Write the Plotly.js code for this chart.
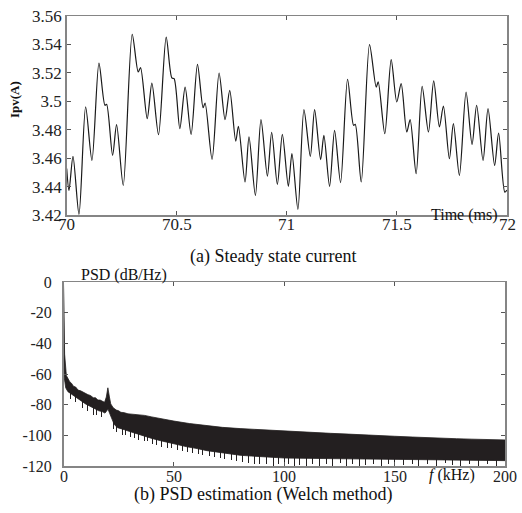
<!DOCTYPE html>
<html>
<head>
<meta charset="utf-8">
<script src="https://cdn.plot.ly/plotly-3.0.1.min.js"></script>
<style>html,body{margin:0;padding:0;background:#fff;}</style>
</head>
<body>
<div id="chart" style="width:522px;height:513px;"></div>
<script>
// ---- (a) Steady state current ----
const timeMs = [70.000, 70.0104, 70.0286, 70.0558, 70.086, 70.1147, 70.1465, 70.1737, 70.1813, 70.2085,
  70.2266, 70.2568, 70.2976, 70.3248, 70.3355, 70.3657, 70.3869, 70.4171, 70.4519, 70.4776,
  70.488, 70.5138, 70.5379, 70.5651, 70.594, 70.6195, 70.6286, 70.6603, 70.6921, 70.7193,
  70.7406, 70.7678, 70.78, 70.81, 70.8281, 70.8571, 70.8825, 70.9116, 70.9311, 70.9569,
  70.9796, 71.0068, 71.0231, 71.0503, 71.0776, 71.1066, 71.1261, 71.1533, 71.1683, 71.1941,
  71.2168, 71.244, 71.2757, 71.303, 71.3107, 71.3379, 71.3755, 71.4059, 71.415, 71.4449,
  71.4739, 71.4993, 71.5193, 71.5447, 71.56, 71.5873, 71.6145, 71.6431, 71.6671, 71.693,
  71.7111, 71.7383, 71.7565, 71.7837, 71.8141, 71.8413, 71.8621, 71.8912, 71.9138, 71.9438,
  71.9619, 71.99, 72.0];
const currentA = [3.4526, 3.4373, 3.4613, 3.4205, 3.496, 3.4584, 3.5269, 3.4972, 3.4979, 3.462,
  3.4836, 3.4409, 3.5471, 3.5206, 3.5237, 3.4878, 3.5128, 3.4765, 3.5452, 3.5164,
  3.5159, 3.4808, 3.51, 3.4767, 3.526, 3.4955, 3.4988, 3.4592, 3.5199, 3.4871,
  3.5077, 3.472, 3.4824, 3.4432, 3.4749, 3.4338, 3.4871, 3.4474, 3.4782, 3.4416,
  3.4767, 3.4402, 3.4632, 3.424, 3.4941, 3.4613, 3.4941, 3.459, 3.476, 3.4402,
  3.4796, 3.4428, 3.5155, 3.4831, 3.4838, 3.4432, 3.5399, 3.51, 3.5136, 3.4772,
  3.5293, 3.4995, 3.5124, 3.4784, 3.4871, 3.4491, 3.5105, 3.4784, 3.5143, 3.4819,
  3.4967, 3.4596, 3.4843, 3.4479, 3.5065, 3.4697, 3.4972, 3.4584, 3.4948, 3.4549,
  3.4777, 3.4361, 3.4375];
const timeTicks = [70, 70.5, 71, 71.5, 72];
const timeTickText = ['70', '70.5', '71', '71.5', '72'];
const currTicks = [3.42, 3.44, 3.46, 3.48, 3.5, 3.52, 3.54, 3.56];
const currTickText = ['3.42', '3.44', '3.46', '3.48', '3.5', '3.52', '3.54', '3.56'];

// ---- (b) PSD estimation (Welch) : band read as upper and lower envelopes ----
const psdUpperF = [0, 0.15, 0.5, 1.3, 2.2, 2.8, 3.6, 4.5, 5.5, 6.6, 7.8, 9, 10, 11.1, 12.2, 13.5, 14.5, 15.6,
  16.6, 17.5, 18.6, 19.4, 20.1, 20.8, 21.4, 22.5, 23.9, 25, 26, 27.5, 29.2, 31, 33, 35, 36.7, 40, 45, 50,
  57, 65, 72, 80, 87, 93, 100, 106, 114, 121, 129, 136, 143, 150, 158, 165, 172, 178, 185, 192, 200];
const psdUpperDb = [-1, -30, -47, -61, -63.5, -65, -66, -68, -68.5, -70.5, -71, -72, -72.5, -73.5, -74, -75.5, -75.5, -77,
  -77, -77.5, -78.5, -75, -69, -75, -79.5, -82, -83.5, -84, -85, -85.2, -86, -86.2, -86.5, -86.8, -87, -88, -89.5, -90.7,
  -92.3, -93.8, -94.8, -95.6, -96.2, -96.6, -97.2, -97.7, -98.2, -98.7, -99.2, -99.8, -100.2, -100.6, -101.1, -101.6, -101.9, -102.2, -102.5, -102.8, -103];
const psdLowerF = [0, 0.3, 1, 2, 3.5, 5, 6.5, 8, 10, 12, 14, 16, 17.5, 18.8, 19.6, 20.2, 21, 22, 23, 24.5, 26, 28,
  30, 33, 36, 40, 44, 48, 52, 56, 60, 65, 70, 75, 80, 85, 90, 95, 100, 110, 120, 130, 140, 150, 160, 170, 180, 190, 200];
const psdLowerDb = [-2, -62, -69, -71.5, -73, -74.5, -76, -78, -79.5, -81, -82.5, -84, -84.5, -85.5, -84, -83, -86, -90, -93, -95, -95.5, -96.5,
  -97.5, -99, -100.5, -102, -103.5, -105, -106.5, -107.5, -108.5, -110, -111, -112, -113, -113.5, -114, -114.5, -114.8, -115, -115.2, -115.4, -115.6, -115.8, -116, -116, -116.2, -116.3, -116.5];
// downward noise spikes below the band (frequency, tip level)
const spikeF = [3, 5.5, 8.5, 11, 13.5, 15, 17, 22.5, 24, 26.5, 28, 30.5, 32, 34, 36.5, 38, 40.5, 42, 44.5, 47, 49, 51.5,
  54, 56, 58.5, 61, 63, 66, 68.5, 71, 73, 76, 78.5, 81, 84, 86.5, 89, 92, 95, 97.5, 100, 102, 104.5, 107, 110, 113,
  116, 119, 122, 125.5, 128, 131, 134, 137, 140.5, 144, 147, 150, 154, 158, 161, 165, 169, 173, 176, 180, 184, 188, 192, 196];
const spikeDb = [-76, -78, -82, -84, -87, -86.5, -88, -96, -98, -99.5, -100, -101, -102, -103, -104, -103.5, -105.5, -106, -107.5, -108.5, -108, -109.5,
  -110, -111, -111.5, -112, -113, -113.5, -114, -115, -115.5, -116, -117, -117.5, -118, -118.5, -119, -119, -120, -118.5, -120, -119, -120, -119.5, -120, -118.5,
  -120, -119, -120, -118, -120, -119, -120, -119.5, -118.5, -120, -119, -120, -119.5, -118.5, -120, -119, -120, -118, -119.5, -120, -118.5, -120, -119, -120];
const freqTicks = [0, 50, 100, 150, 200];
const freqTickText = ['0', '50', '100', '150', '200'];
const psdTicks = [-120, -100, -80, -60, -40, -20, 0];
const psdTickText = ['-120', '-100', '-80', '-60', '-40', '-20', '0'];

const INK = '#231f20';
const W = 522, H = 513;
const SERIF = 'Liberation Serif, Times New Roman, serif';
const TOP_BOTTOM_PX = 215, BOT_BOTTOM_PX = 466;

const traces = [
  {x: timeMs, y: currentA, type: 'scatter', mode: 'lines', xaxis: 'x', yaxis: 'y',
   line: {color: '#1a1a1a', width: 1.2, shape: 'spline', smoothing: 0.8}, hoverinfo: 'skip'},
  {x: psdLowerF, y: psdLowerDb, type: 'scatter', mode: 'lines', xaxis: 'x2', yaxis: 'y2',
   line: {color: INK, width: 0.8}, hoverinfo: 'skip'},
  {x: psdUpperF, y: psdUpperDb, type: 'scatter', mode: 'lines', xaxis: 'x2', yaxis: 'y2',
   line: {color: INK, width: 0.8}, fill: 'tonexty', fillcolor: INK, hoverinfo: 'skip'},
  {x: spikeF, y: spikeF.map(() => 6), base: spikeDb, type: 'bar', xaxis: 'x2', yaxis: 'y2',
   width: 0.45, marker: {color: INK, line: {width: 0}}, hoverinfo: 'skip'}
];

const axisCommon = {
  showgrid: false, zeroline: false, showline: true, linecolor: '#858585', linewidth: 1.5,
  mirror: 'ticks', ticks: 'inside', ticklen: 4, tickcolor: '#555', tickwidth: 1,
  tickfont: {family: SERIF, size: 17, color: '#222'}
};

const ann = (text, px, py, size, extra) => Object.assign({
  text: text, xref: 'paper', yref: 'paper', x: px / W, y: 1 - py / H,
  xanchor: 'center', yanchor: 'middle', showarrow: false,
  font: {family: SERIF, size: size, color: '#111'}
}, extra || {});

// x tick labels placed right under the axis line (as in the reference)
const tickAnn = (vals, texts, xref, py, size) => vals.map((v, i) => ({
  text: texts[i], xref: xref, yref: 'paper', x: v, y: 1 - py / H,
  xanchor: 'center', yanchor: 'top', showarrow: false, borderpad: 0,
  font: {family: SERIF, size: size, color: '#222'}
}));

const layout = {
  width: W, height: H,
  margin: {l: 0, r: 0, t: 0, b: 0},
  paper_bgcolor: '#fff', plot_bgcolor: '#fff',
  showlegend: false,
  bargap: 0,
  xaxis: Object.assign({}, axisCommon, {domain: [66.7 / W, 507 / W], anchor: 'y', range: [70, 72],
    tickmode: 'array', tickvals: timeTicks, ticktext: timeTickText, showticklabels: false}),
  yaxis: Object.assign({}, axisCommon, {domain: [1 - TOP_BOTTOM_PX / H, 1 - 16 / H], anchor: 'x', range: [3.42, 3.56],
    tickmode: 'array', tickvals: currTicks, ticktext: currTickText, ticklabelstandoff: 0}),
  xaxis2: Object.assign({}, axisCommon, {domain: [63.5 / W, 505 / W], anchor: 'y2', range: [0, 200],
    tickmode: 'array', tickvals: freqTicks, ticktext: freqTickText, showticklabels: false}),
  yaxis2: Object.assign({}, axisCommon, {domain: [1 - BOT_BOTTOM_PX / H, 1 - 282 / H], anchor: 'x2', range: [-120, 0],
    tickmode: 'array', tickvals: psdTicks, ticktext: psdTickText, ticklabelstandoff: 7,
    tickfont: {family: SERIF, size: 16, color: '#222'}}),
  annotations: [].concat(
    tickAnn(timeTicks, timeTickText, 'x', TOP_BOTTOM_PX - 1, 17),
    tickAnn(freqTicks, freqTickText, 'x2', BOT_BOTTOM_PX + 1, 16),
    [
      ann('(a) Steady state current', 273, 256, 18),
      ann('(b) PSD estimation (Welch method)', 263, 494, 18),
      ann('<b>Ipv(A)</b>', 14, 100, 13, {textangle: -90}),
      ann('Time (ms)', 464, 215, 16),
      ann('PSD (dB/Hz)', 124, 275, 16),
      ann('<i>f</i> (kHz)', 452, 475, 16)
    ])
};

Plotly.newPlot('chart', traces, layout, {staticPlot: true, displayModeBar: false});
</script>
</body>
</html>
